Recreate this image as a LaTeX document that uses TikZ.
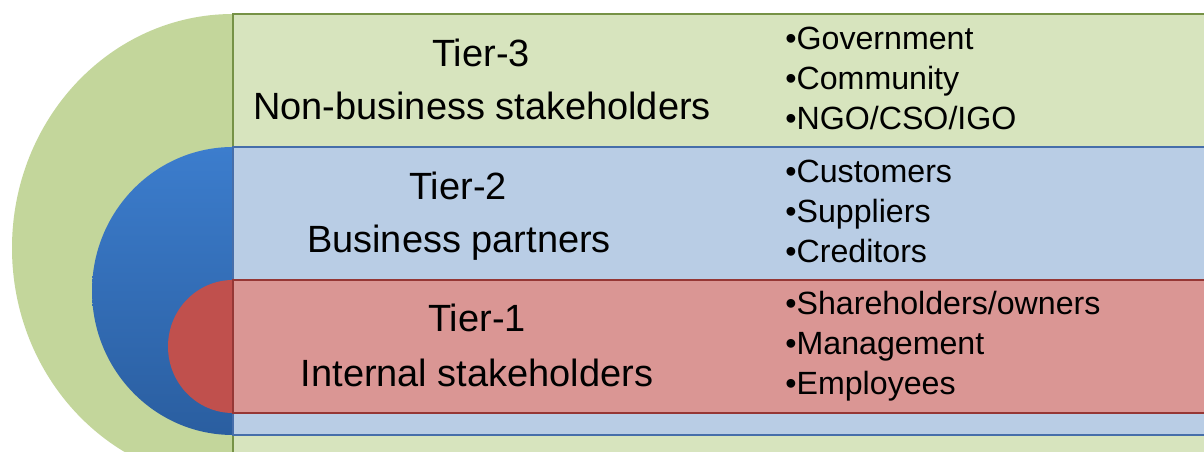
\documentclass[tikz,border=0pt]{standalone}
\usepackage{fontspec}
\setmainfont{Liberation Sans}

\definecolor{olivefill}{RGB}{215,228,190}
\definecolor{olivedisc}{RGB}{195,214,155}
\definecolor{oliveline}{RGB}{118,146,70}
\definecolor{bluefill}{RGB}{185,205,229}
\definecolor{bluetop}{RGB}{60,125,205}
\definecolor{bluebot}{RGB}{42,94,160}
\definecolor{blueline}{RGB}{70,110,170}
\definecolor{redfill}{RGB}{218,150,148}
\definecolor{reddisc}{RGB}{192,80,77}
\definecolor{redline}{RGB}{150,55,53}

\begin{document}
\begin{tikzpicture}[
	band/.style={line width=1.3pt},
	tier/.style={anchor=base, inner sep=0pt, font=\fontsize{21.6}{25}\selectfont},
	item/.style={anchor=base west, inner sep=0pt, font=\fontsize{18.3}{22}\selectfont}]
	\fill[white] (0,0) rectangle (24.08,9.04);
	\clip (0,0) rectangle (24.08,9.04);
	
	% tier 3: half disc and band
	\fill[olivedisc] (4.66,8.76) arc[start angle=90, end angle=270, x radius=4.42, y radius=4.68] -- cycle;
	\draw[band, draw=oliveline, fill=olivefill] (4.66,-0.5) rectangle (24.5,8.76);
	
	% tier 2
	\path[top color=bluetop, bottom color=bluebot] (4.66,6.10) arc[start angle=90, end angle=270, x radius=2.82, y radius=2.88] -- cycle;
	\draw[band, draw=blueline, fill=bluefill] (4.66,0.34) rectangle (24.5,6.10);
	
	% tier 1
	\fill[reddisc] (4.66,3.44) arc[start angle=90, end angle=270, x radius=1.30, y radius=1.33] -- cycle;
	\draw[band, draw=redline, fill=redfill] (4.66,0.78) rectangle (24.5,3.44);
	
	% tier names
	\node[tier] at (9.62,7.70) (t3) {Tier-3};
	\node[tier] at (9.64,6.64) (t3n) {Non-business stakeholders};
	\node[tier] at (9.16,5.04) (t2) {Tier-2};
	\node[tier] at (9.18,3.98) (t2n) {Business partners};
	\node[tier] at (9.54,2.40) (t1) {Tier-1};
	\node[tier] at (9.54,1.30) (t1n) {Internal stakeholders};
	
	% stakeholder lists
	\node[item] at (15.70,8.04) (gov) {•Government};
	\node[item] at (15.70,7.24) (com) {•Community};
	\node[item] at (15.70,6.44) (ngo) {•NGO/CSO/IGO};
	
	\node[item] at (15.70,5.38) (cus) {•Customers};
	\node[item] at (15.70,4.58) (sup) {•Suppliers};
	\node[item] at (15.70,3.78) (cre) {•Creditors};
	
	\node[item] at (15.70,2.74) (sha) {•Shareholders/owners};
	\node[item] at (15.70,1.94) (man) {•Management};
	\node[item] at (15.70,1.14) (emp) {•Employees};
\end{tikzpicture}
\end{document}
